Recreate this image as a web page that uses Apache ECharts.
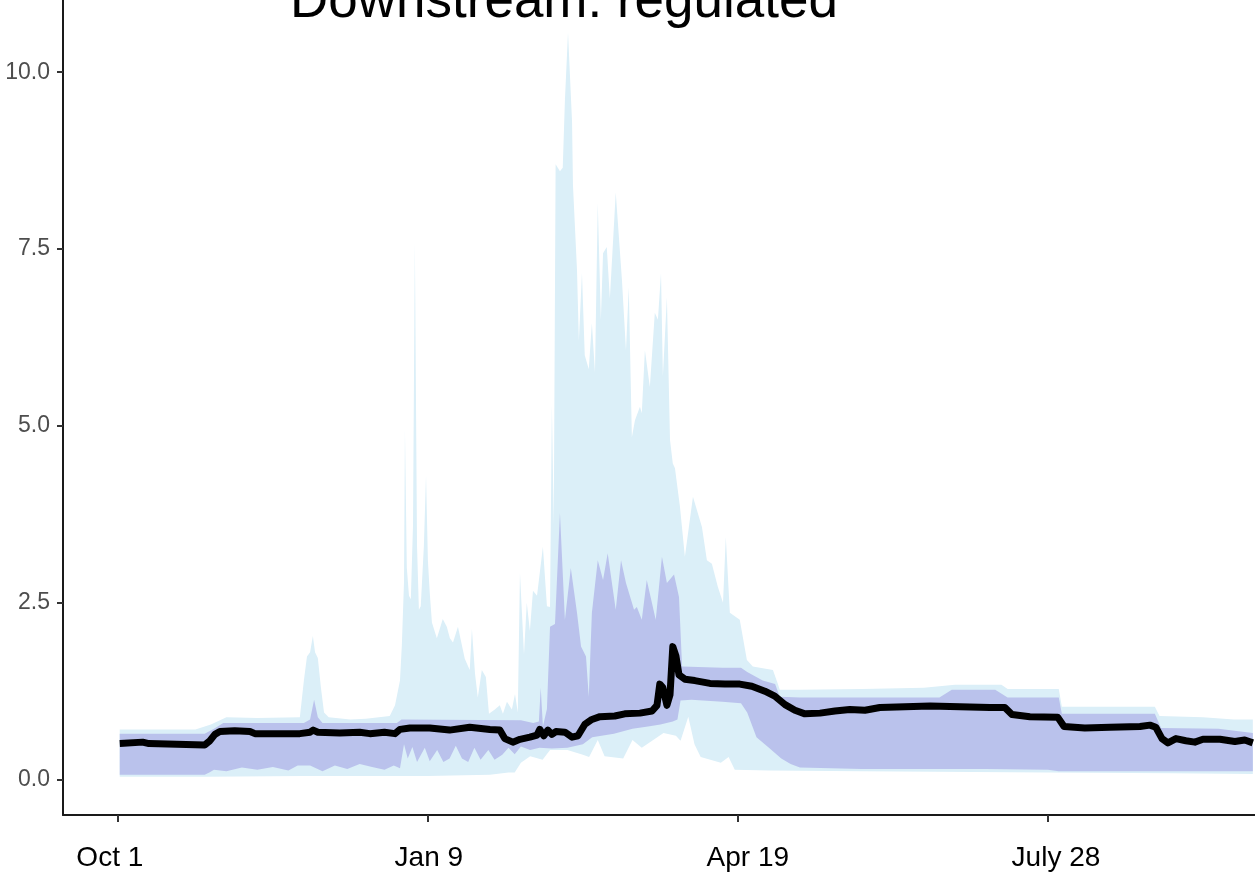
<!DOCTYPE html>
<html>
<head>
<meta charset="utf-8">
<script src="https://cdn.jsdelivr.net/npm/echarts@6/dist/echarts.min.js"></script>
<style>
  html, body { margin: 0; padding: 0; background: #fff; }
  #chart { width: 1255px; height: 879px; }
</style>
</head>
<body>
<div id="chart"></div>
<script>
// Day of the water year (day 0 = Oct 1) and flow values.
const tickDays = [0, 100, 200, 300];
const tickLabels = ['Oct 1', 'Jan 9', 'Apr 19', 'July 28'];
// label anchors sit slightly off the tick marks
const labelDays = [-2.6, 100.3, 203.2, 302.6];
const yTicks = [0, 2.5, 5, 7.5, 10];

// Median flow
const median = [
  [0.6,0.51],[8,0.53],[10,0.51],[28,0.49],[29.7,0.55],[31.3,0.64],[32.9,0.68],[37.7,0.69],
  [42.6,0.68],[44.2,0.65],[52,0.65],[58.7,0.65],[62,0.67],[63,0.70],[64.5,0.67],[71.6,0.66],
  [78,0.67],[81.3,0.65],[86,0.67],[89.4,0.65],[91,0.71],[94.2,0.73],[100.6,0.73],[107,0.70],
  [113.5,0.74],[120,0.71],[123.2,0.70],[124.8,0.58],[127.4,0.53],[129.7,0.57],[132.9,0.60],
  [135.2,0.63],[136.1,0.71],[137.4,0.62],[138.7,0.70],[140,0.64],[141.3,0.68],[144.2,0.67],
  [146.5,0.60],[148.4,0.62],[150.6,0.78],[152.9,0.85],[155.5,0.89],[160.3,0.90],[163.5,0.93],
  [168.4,0.94],[172.3,0.97],[173.9,1.05],[174.8,1.35],[175.8,1.30],[177.1,1.05],[178.1,1.20],
  [179,1.88],[180,1.75],[181,1.48],[182.9,1.42],[186.1,1.40],[191,1.36],[195.8,1.35],
  [200.6,1.35],[204.5,1.32],[208.7,1.25],[211.9,1.18],[215.2,1.06],[218.4,0.98],[221.6,0.93],
  [226.5,0.94],[231.3,0.97],[236.1,0.99],[241,0.98],[245.8,1.02],[253.9,1.03],[262,1.04],
  [271.6,1.03],[281.3,1.02],[286.1,1.02],[288.4,0.92],[294.2,0.89],[303.2,0.88],[305.2,0.75],
  [311.9,0.73],[320,0.74],[329.7,0.75],[332.9,0.77],[334.8,0.74],[336.8,0.58],[338.7,0.52],
  [341.3,0.58],[344.5,0.55],[347.4,0.53],[350,0.57],[355.5,0.57],[360.3,0.54],[363.5,0.56],
  [366.1,0.52]
];

// Outer band (light blue), upper and lower edges
const outerUpper = [
  [0.6,0.71],[25,0.71],[30,0.78],[35,0.88],[45,0.87],[58.7,0.88],[60,1.4],[61,1.74],[62,1.8],
  [62.9,2.03],[63.6,1.8],[64.5,1.72],[65.5,1.3],[66.5,0.95],[68,0.88],[75,0.85],[80,0.86],
  [87.7,0.9],[89.4,1.05],[91,1.4],[91.6,1.9],[92.3,2.8],[92.6,4.95],[93.2,3.0],[93.9,2.6],
  [94.5,2.55],[95.2,3.6],[95.8,7.6],[96.5,3.3],[97.1,2.4],[97.7,2.45],[98.7,3.3],[99.4,4.3],
  [100,3.1],[100.6,2.64],[101.3,2.22],[102.9,2.0],[104.8,2.27],[106.1,2.16],[107.1,2.0],
  [108.1,1.94],[109.7,2.16],[111.9,1.71],[113.5,1.55],[114.2,2.13],[115.2,1.5],[116.1,1.16],
  [117.4,1.55],[118.7,1.45],[119.7,0.93],[121.6,0.99],[123.2,1.05],[124.2,0.93],[125.5,1.1],
  [127.1,0.99],[128.1,1.21],[129,0.95],[129.7,2.92],[131,1.77],[131.9,2.5],[132.9,2.1],
  [133.9,2.67],[135.2,2.6],[137.1,3.29],[138.4,2.45],[139.4,2.44],[140,5.3],[140.6,3.6],
  [141.2,8.7],[142.6,8.6],[143.5,8.65],[144.2,9.6],[145.2,10.56],[146.5,9.3],[146.8,8.4],
  [148.1,7.2],[148.7,6.2],[149.7,7.16],[150.6,6.0],[151.9,5.8],[152.9,6.45],[153.9,5.75],
  [154.8,8.15],[155.8,6.5],[156.5,7.44],[157.7,7.53],[158.7,6.8],[160.6,8.3],[162.6,7.06],
  [163.9,6.07],[164.8,6.96],[165.8,4.84],[166.8,5.08],[168.4,5.27],[169,5.18],[170,6.07],
  [171.6,5.55],[173.2,6.6],[174.2,6.5],[175.2,7.16],[175.8,5.7],[177.1,6.82],[178.1,4.8],
  [179,4.47],[179.7,4.4],[181.3,3.86],[182.9,3.15],[185.5,4.0],[188.4,3.57],[190,3.1],
  [191.6,3.05],[193.5,2.73],[195.2,2.5],[196.1,3.43],[197.4,2.36],[200.6,2.26],[202.9,1.69],
  [204.8,1.6],[211.3,1.55],[212.9,1.35],[213.5,1.27],[220,1.27],[240,1.28],[260,1.3],
  [270,1.34],[285,1.34],[287,1.28],[303.5,1.28],[304.5,1.03],[334.5,1.03],[336,0.9],
  [350,0.88],[360,0.85],[366.1,0.85]
];
const outerLower = [
  [0.6,0.04],[28,0.04],[60,0.05],[100,0.05],[120,0.07],[126,0.1],[128,0.1],[130,0.24],
  [133,0.33],[137,0.28],[139.4,0.42],[145,0.42],[150,0.35],[152,0.32],[154.8,0.56],[157,0.33],
  [163,0.3],[166,0.56],[169,0.45],[176,0.66],[180,0.62],[181.5,0.55],[184,0.89],[186,0.5],
  [188,0.32],[194.5,0.24],[197,0.32],[199,0.14],[210,0.13],[240,0.12],[300,0.1],[340,0.09],
  [366.1,0.08]
];

// Inner band (lavender), upper and lower edges
const innerUpper = [
  [0.6,0.65],[28,0.65],[31,0.72],[34,0.8],[60,0.8],[62,0.85],[63.3,1.13],[64.5,0.88],[66,0.8],
  [90,0.8],[91.5,0.85],[130,0.84],[134,0.8],[135.8,0.82],[136.4,1.3],[137.1,0.75],[138.4,1.0],
  [139.4,2.16],[141,2.2],[142.6,3.77],[144.2,2.26],[146.1,2.99],[148.1,2.36],[149.4,1.88],
  [151,1.74],[151.9,1.17],[152.9,2.36],[154.8,3.1],[156.5,2.82],[158,3.2],[160.6,2.4],
  [162.3,3.1],[163.9,2.78],[166.5,2.4],[167.4,2.44],[169,2.26],[170.6,2.82],[173.5,2.26],
  [175.5,3.15],[177.1,2.78],[179.4,2.9],[181,2.58],[182,1.6],[195,1.58],[201,1.58],[203,1.52],
  [208,1.4],[212,1.35],[213.5,1.17],[220,1.16],[265,1.16],[269,1.27],[283,1.27],[287,1.16],
  [303.5,1.16],[304.5,0.93],[334.5,0.93],[336.5,0.73],[355,0.72],[366.1,0.66]
];
const innerLower = [
  [0.6,0.07],[28,0.07],[29.5,0.1],[31,0.14],[35,0.12],[40,0.17],[45,0.14],[50,0.18],[55,0.13],
  [58,0.2],[62,0.2],[66,0.12],[70,0.2],[74,0.15],[78,0.22],[82,0.18],[86,0.14],[89,0.2],
  [91,0.16],[92.3,0.5],[93.5,0.3],[95,0.46],[96.5,0.25],[99,0.45],[100.6,0.26],[103,0.42],
  [105,0.25],[107,0.3],[109,0.48],[111,0.3],[113,0.25],[115,0.45],[117,0.28],[119.5,0.42],
  [121.5,0.28],[124,0.35],[126,0.45],[128,0.36],[130,0.47],[133,0.42],[136,0.45],[140,0.44],
  [145,0.45],[150,0.5],[153,0.6],[160,0.65],[166,0.72],[171,0.75],[175,0.78],[179,0.82],
  [180.5,0.85],[181.5,1.12],[185,1.13],[195,1.1],[201,1.08],[203,0.95],[206,0.6],[210,0.45],
  [214,0.3],[217,0.22],[220,0.17],[240,0.15],[280,0.15],[300,0.14],[303.5,0.12],[366.1,0.12]
];

const FONT = 'Liberation Sans, Arial, Helvetica, sans-serif';

function band(upper, lower, color) {
  return {
    type: 'custom',
    silent: true,
    data: [[0, 0]],
    renderItem: function (params, api) {
      const pts = upper.map(function (p) { return api.coord(p); })
        .concat(lower.slice().reverse().map(function (p) { return api.coord(p); }));
      return { type: 'polygon', shape: { points: pts }, style: { fill: color } };
    }
  };
}

const chart = echarts.init(document.getElementById('chart'), null, { renderer: 'canvas' });
chart.setOption({
  animation: false,
  backgroundColor: '#ffffff',
  graphic: [{
    type: 'text',
    x: 564,
    y: 2,
    style: {
      text: 'Downstream: regulated',
      font: '53px ' + FONT,
      fill: '#000',
      textAlign: 'center',
      textVerticalAlign: 'middle'
    }
  }],
  grid: { left: 63, right: 0, top: 0, bottom: 64 },
  xAxis: {
    type: 'value',
    min: -17.7,
    max: 366.8,
    splitLine: { show: false },
    axisLine: { show: true, onZero: false, lineStyle: { color: '#1a1a1a', width: 2 } },
    axisTick: { show: true, length: 7, customValues: tickDays, lineStyle: { color: '#333', width: 2 } },
    axisLabel: {
      customValues: labelDays,
      formatter: function (v) { return tickLabels[labelDays.indexOf(v)] || ''; },
      color: '#000',
      fontFamily: FONT,
      fontSize: 28,
      margin: 29
    }
  },
  yAxis: {
    type: 'value',
    min: -0.5,
    max: 11.02,
    splitLine: { show: false },
    axisLine: { show: true, onZero: false, lineStyle: { color: '#1a1a1a', width: 2 } },
    axisTick: { show: true, length: 6, customValues: yTicks, lineStyle: { color: '#333', width: 2 } },
    axisLabel: {
      customValues: yTicks,
      formatter: function (v) { return v.toFixed(1); },
      color: '#4d4d4d',
      fontFamily: FONT,
      fontSize: 23,
      margin: 13
    }
  },
  series: [
    band(outerUpper, outerLower, '#dbeff8'),
    band(innerUpper, innerLower, '#bac2ec'),
    {
      type: 'line',
      data: median,
      showSymbol: false,
      silent: true,
      lineStyle: { color: '#000', width: 7, join: 'round' }
    }
  ]
});
</script>
</body>
</html>
